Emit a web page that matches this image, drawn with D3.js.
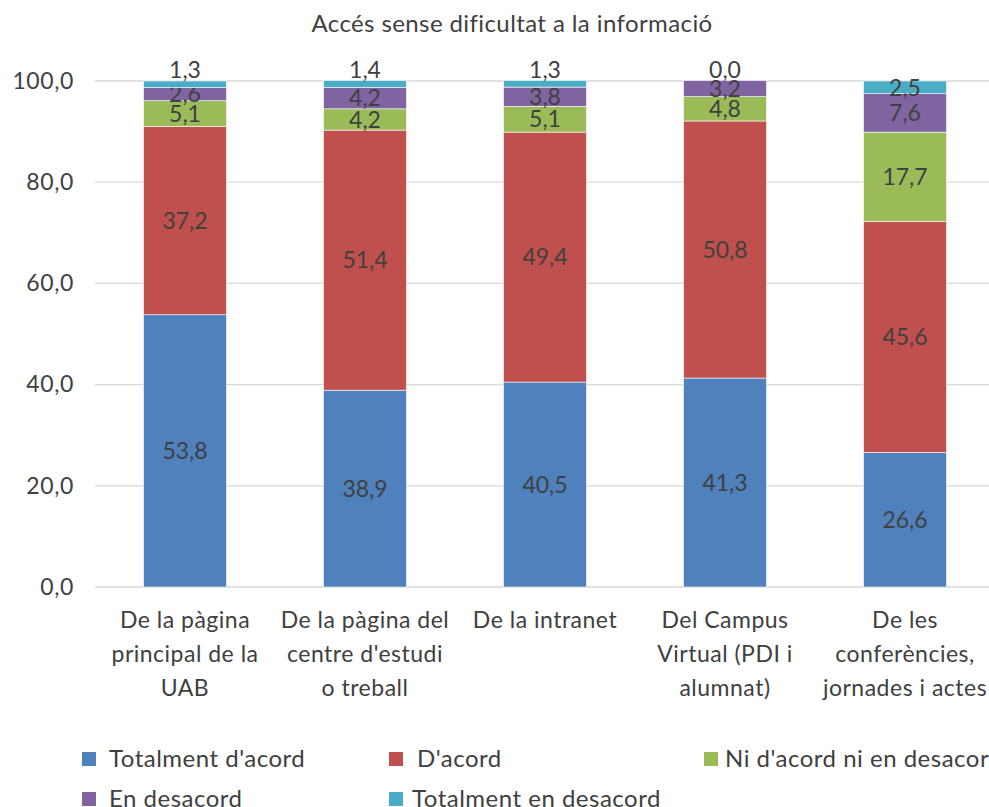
<!DOCTYPE html>
<html lang="ca">
<head>
  <meta charset="UTF-8">
  <title>Accés sense dificultat a la informació</title>
  <script src="https://d3js.org/d3.v7.min.js"></script>
  <style>
    body { margin: 0; background: #fff; }
    svg text { font-family: Lato, "Open Sans", sans-serif; fill: #404040; }
  </style>
</head>
<body>
  <svg width="989" height="807"></svg>

  <script>
    const categories = [
      ["De la pàgina", "principal de la", "UAB"],
      ["De la pàgina del", "centre d'estudi", "o treball"],
      ["De la intranet"],
      ["Del Campus", "Virtual (PDI i", "alumnat)"],
      ["De les", "conferències,", "jornades i actes"]
    ];
    const seriesNames = ["Totalment d'acord", "D'acord", "Ni d'acord ni en desacor", "En desacord", "Totalment en desacord"];
    const colors = ["#4f81bd", "#c0504d", "#9bbb59", "#8064a2", "#4bacc6"];
    const totalmentAcord = [53.8, 38.9, 40.5, 41.3, 26.6];
    const acord = [37.2, 51.4, 49.4, 50.8, 45.6];
    const niNi = [5.1, 4.2, 5.1, 4.8, 17.7];
    const desacord = [2.6, 4.2, 3.8, 3.2, 7.6];
    const totalmentDesacord = [1.3, 1.4, 1.3, 0.0, 2.5];
    const yTicks = [0, 20, 40, 60, 80, 100];

    const series = [totalmentAcord, acord, niNi, desacord, totalmentDesacord];
    const rows = categories.map((c, i) => {
      const r = { idx: i };
      series.forEach((s, k) => r["s" + k] = s[i]);
      return r;
    });
    const keys = series.map((s, k) => "s" + k);
    const fmt = v => d3.format(".1f")(v).replace(".", ",");

    const svg = d3.select("svg");
    const plotLeft = 95, plotRight = 995, plotTop = 81, plotBottom = 587;

    const x = d3.scaleBand().domain(d3.range(categories.length)).range([plotLeft, plotRight])
      .paddingInner(0.539).paddingOuter(0.2695);
    const y = d3.scaleLinear().domain([0, 100]).range([plotBottom, plotTop]);

    svg.append("text")
      .attr("x", 512).attr("y", 32)
      .attr("text-anchor", "middle")
      .style("font-size", "24px")
      .style("letter-spacing", "0.4px")
      .text("Accés sense dificultat a la informació");

    // gridlines
    svg.append("g").selectAll("line")
      .data(yTicks)
      .join("line")
      .attr("x1", plotLeft).attr("x2", plotRight)
      .attr("y1", d => y(d)).attr("y2", d => y(d))
      .attr("stroke", "#d9d9d9").attr("stroke-width", 1.3);

    // y axis labels
    const yAxis = svg.append("g")
      .attr("transform", `translate(${plotLeft},0)`)
      .call(d3.axisLeft(y).tickValues(yTicks).tickSize(0).tickPadding(21).tickFormat(fmt));
    yAxis.select(".domain").remove();
    yAxis.selectAll("text").style("font-size", "23px").style("letter-spacing", "0.6px").attr("fill", "#404040");

    const stacked = d3.stack().keys(keys)(rows);

    const layers = svg.append("g").selectAll("g")
      .data(stacked)
      .join("g")
      .attr("fill", (d, i) => colors[i]);

    layers.selectAll("rect")
      .data(d => d)
      .join("rect")
      .attr("x", d => x(d.data.idx))
      .attr("width", x.bandwidth())
      .attr("y", d => y(d[1]))
      .attr("height", d => y(d[0]) - y(d[1]))
      .attr("stroke", "#fff").attr("stroke-width", 0.6);

    // data labels (tiny top segments get lifted above the bar, as Excel does)
    layers.selectAll("text")
      .data((d, k) => d.map(p => ({ p, k })))
      .join("text")
      .attr("x", d => x(d.p.data.idx) + x.bandwidth() / 2)
      .attr("y", d => {
        const v = d.p[1] - d.p[0];
        if (d.k === keys.length - 1 && v < 2) return y(d.p[1]) - 11;
        return (y(d.p[0]) + y(d.p[1])) / 2;
      })
      .attr("dy", "0.36em")
      .attr("text-anchor", "middle")
      .style("font-size", "23px")
      .text(d => fmt(d.p[1] - d.p[0]));

    // category labels
    const cat = svg.append("g").selectAll("text")
      .data(categories)
      .join("text")
      .attr("text-anchor", "middle")
      .style("font-size", "23px")
      .style("letter-spacing", "0.5px")
      .attr("x", (d, i) => x(i) + x.bandwidth() / 2)
      .attr("y", 628);
    cat.selectAll("tspan")
      .data(d => d)
      .join("tspan")
      .attr("x", function () { return this.parentNode.getAttribute("x"); })
      .attr("dy", (d, i) => i === 0 ? 0 : 34)
      .text(d => d);

    // legend
    const legendPos = [[82, 767], [389, 767], [704, 767], [82, 807], [389, 807]];
    const legendGap = [27, 28, 21, 27, 23];
    const legend = svg.append("g").selectAll("g")
      .data(seriesNames)
      .join("g")
      .attr("transform", (d, i) => `translate(${legendPos[i][0]},${legendPos[i][1]})`);
    legend.append("rect")
      .attr("x", 0).attr("y", -15).attr("width", 14).attr("height", 14)
      .attr("fill", (d, i) => colors[i]);
    legend.append("text")
      .attr("x", (d, i) => legendGap[i])
      .style("font-size", "24px")
      .style("letter-spacing", "0.5px")
      .text(d => d);
  </script>
</body>
</html>
